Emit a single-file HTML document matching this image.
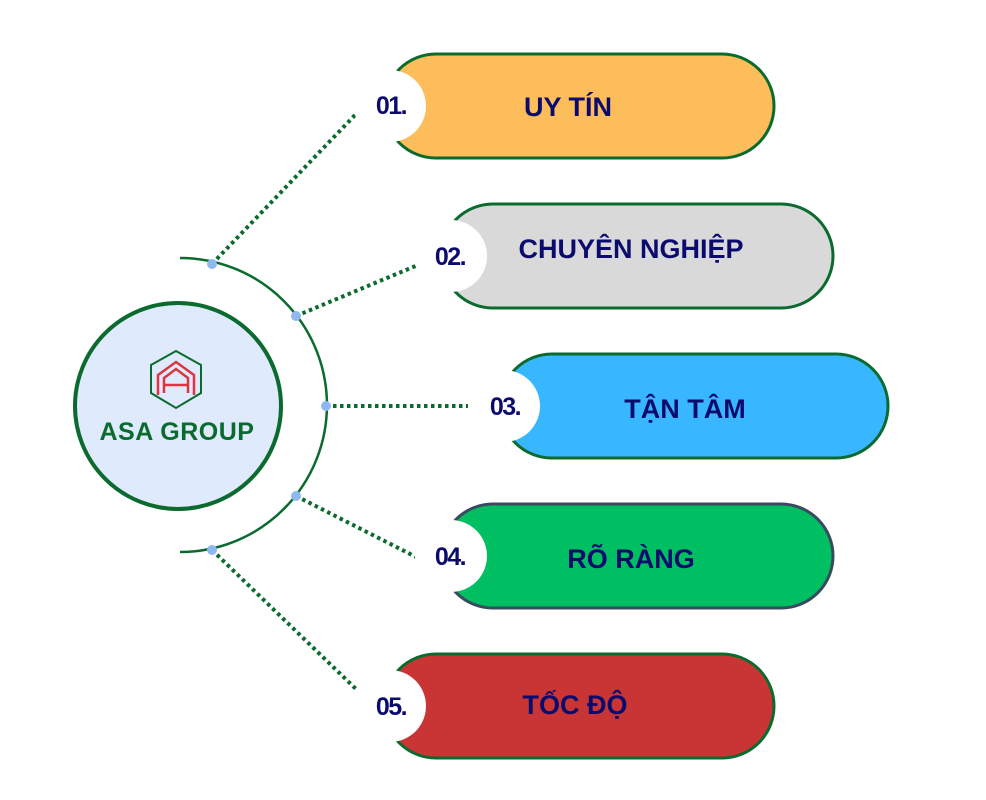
<!DOCTYPE html>
<html><head><meta charset="utf-8"><style>
html,body{margin:0;padding:0;background:#fff;}
svg{display:block;}
text{font-family:"Liberation Sans",sans-serif;font-weight:bold;fill:#0b0b6e;}
</style></head><body>
<svg width="986" height="800" viewBox="0 0 986 800" xmlns="http://www.w3.org/2000/svg">
<g stroke="#0b6b2e" stroke-width="4" stroke-dasharray="3.5 3.5" fill="none">
<line x1="212" y1="264" x2="357" y2="113"/>
<line x1="296" y1="316" x2="418" y2="265"/>
<line x1="326" y1="406" x2="468" y2="406"/>
<line x1="296" y1="496" x2="418" y2="558"/>
<line x1="212" y1="550" x2="357" y2="690"/>
</g>
<path d="M180 258 A147 147 0 0 1 180 552" stroke="#0b6b2e" stroke-width="2.5" fill="none"/>
<g fill="#8fb8f0">
<circle cx="212" cy="264" r="5"/><circle cx="296" cy="316" r="5"/><circle cx="326" cy="406" r="5"/><circle cx="296" cy="496" r="5"/><circle cx="212" cy="550" r="5"/>
</g>
<circle cx="178" cy="406" r="103" fill="#dfeafc" stroke="#0b6b2e" stroke-width="4"/>
<polygon points="176,351 201,365 201,393 176,408 151,393 151,365" fill="none" stroke="#0b6b2e" stroke-width="2"/>
<path d="M158 395 V375 L176 362 L194 375 V395 M164 393 V378 L176 369 L188 378 V393 M164 385 H188" fill="none" stroke="#d9363e" stroke-width="2.5"/>
<text x="177" y="440" text-anchor="middle" font-size="25" letter-spacing="0.5" style="fill:#0b6b2e">ASA GROUP</text>

<rect x="384" y="54" width="390" height="104" rx="52" fill="#fdbd5a" stroke="#0b6b2e" stroke-width="3"/>
<circle cx="390" cy="106" r="36" fill="#fff"/>
<text x="391" y="114" text-anchor="middle" font-size="25" letter-spacing="-1.5">01.</text>
<text x="568" y="116" text-anchor="middle" font-size="27">UY TÍN</text>

<rect x="441" y="204" width="392" height="104" rx="52" fill="#d9d9d9" stroke="#0b6b2e" stroke-width="3"/>
<circle cx="451" cy="256" r="36" fill="#fff"/>
<text x="450" y="265" text-anchor="middle" font-size="25" letter-spacing="-1.5">02.</text>
<text x="631" y="258" text-anchor="middle" font-size="27">CHUYÊN NGHIỆP</text>

<rect x="500" y="354" width="388" height="104" rx="52" fill="#38b6ff" stroke="#0b6b2e" stroke-width="3"/>
<circle cx="504" cy="406" r="36" fill="#fff"/>
<text x="505" y="415" text-anchor="middle" font-size="25" letter-spacing="-1.5">03.</text>
<text x="685" y="418" text-anchor="middle" font-size="27">TẬN TÂM</text>

<rect x="441" y="504" width="392" height="104" rx="52" fill="#00bf63" stroke="#3a4a5e" stroke-width="3"/>
<circle cx="451" cy="556" r="36" fill="#fff"/>
<text x="450" y="565" text-anchor="middle" font-size="25" letter-spacing="-1.5">04.</text>
<text x="631" y="568" text-anchor="middle" font-size="27">RÕ RÀNG</text>

<rect x="384" y="654" width="390" height="104" rx="52" fill="#c93535" stroke="#0b6b2e" stroke-width="3"/>
<circle cx="390" cy="706" r="36" fill="#fff"/>
<text x="391" y="715" text-anchor="middle" font-size="25" letter-spacing="-1.5">05.</text>
<text x="575" y="714" text-anchor="middle" font-size="27">TỐC ĐỘ</text>
</svg>
</body></html>
